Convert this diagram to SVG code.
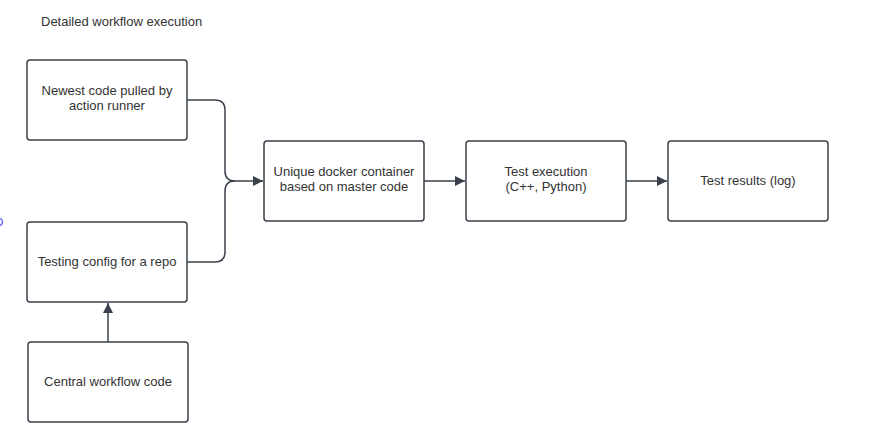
<svg xmlns="http://www.w3.org/2000/svg" width="877" height="446" viewBox="0 0 877 446">
<style>
.box{fill:#fff;stroke:#3a414a;stroke-width:1.5}
.t{font-family:"Liberation Sans",Arial,sans-serif;font-size:13px;fill:#333;text-anchor:middle}
.c{fill:none;stroke:#3a414a;stroke-width:1.5}
</style>
<defs>
<marker id="ah" viewBox="0 0 10 10" refX="10" refY="5" markerWidth="10" markerHeight="10" markerUnits="userSpaceOnUse" orient="auto">
<path d="M0,0 L10,5 L0,10 z" fill="#3a414a"/>
</marker>
</defs>
<rect width="877" height="446" fill="#fff"/>
<text x="41" y="26" font-family="'Liberation Sans',Arial,sans-serif" font-size="13" fill="#333">Detailed workflow execution</text>
<circle cx="-1" cy="222" r="3.5" fill="none" stroke="#6b6bff" stroke-width="1.5"/>
<g id="connectors">
<path class="c" d="M187,100 H215 Q225,100 225,110 V171 Q225,181 235,181 H263" marker-end="url(#ah)"/>
<path class="c" d="M187,262 H215 Q225,262 225,252 V191 Q225,181 235,181"/>
<path class="c" d="M108,342 V303" marker-end="url(#ah)"/>
<path class="c" d="M424,181 H465" marker-end="url(#ah)"/>
<path class="c" d="M626,181 H667" marker-end="url(#ah)"/>
</g>
<g id="n1"><rect class="box" x="27" y="60" width="160" height="80" rx="3"/>
<text class="t" x="107" y="95">Newest code pulled by</text><text class="t" x="107" y="110">action runner</text></g>
<g id="n2"><rect class="box" x="27" y="222" width="160" height="80" rx="3"/>
<text class="t" x="107" y="266">Testing config for a repo</text></g>
<g id="n3"><rect class="box" x="28" y="342" width="160" height="80" rx="3"/>
<text class="t" x="108" y="386">Central workflow code</text></g>
<g id="n4"><rect class="box" x="264" y="141" width="160" height="80" rx="3"/>
<text class="t" x="344" y="176">Unique docker container</text><text class="t" x="344" y="191">based on master code</text></g>
<g id="n5"><rect class="box" x="466" y="141" width="160" height="80" rx="3"/>
<text class="t" x="546" y="176">Test execution</text><text class="t" x="546" y="191">(C++, Python)</text></g>
<g id="n6"><rect class="box" x="668" y="141" width="160" height="80" rx="3"/>
<text class="t" x="748" y="185">Test results (log)</text></g>
</svg>
